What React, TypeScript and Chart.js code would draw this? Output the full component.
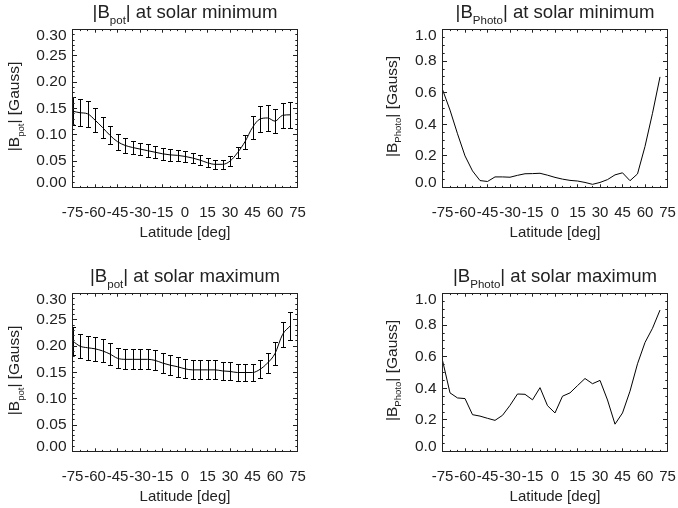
import React, { useEffect, useRef } from "react";
import { Chart, registerables } from "chart.js";

Chart.register(...registerables);

// ---------------- data ----------------
const latitudes = [-75, -70, -65, -60, -55, -50, -45, -40, -35, -30, -25, -20, -15, -10, -5, 0, 5, 10, 15, 20, 25, 30, 35, 40, 45, 50, 55, 60, 65, 70];

const bPotMin = [0.145, 0.142, 0.140, 0.128, 0.114, 0.099, 0.087, 0.080, 0.076, 0.073, 0.070, 0.067, 0.064, 0.062, 0.061, 0.059, 0.056, 0.052, 0.047, 0.044, 0.044, 0.050, 0.066, 0.087, 0.114, 0.130, 0.132, 0.126, 0.137, 0.138];
const bPotMinErr = [0.027, 0.026, 0.025, 0.023, 0.020, 0.017, 0.015, 0.014, 0.013, 0.012, 0.012, 0.011, 0.011, 0.011, 0.010, 0.010, 0.010, 0.009, 0.009, 0.009, 0.009, 0.009, 0.010, 0.013, 0.021, 0.024, 0.025, 0.023, 0.024, 0.025];

const bPotMax = [0.210, 0.200, 0.197, 0.195, 0.191, 0.185, 0.177, 0.175, 0.175, 0.175, 0.175, 0.173, 0.168, 0.164, 0.161, 0.157, 0.155, 0.155, 0.155, 0.155, 0.153, 0.152, 0.150, 0.150, 0.150, 0.156, 0.168, 0.186, 0.222, 0.238];
const bPotMaxErr = [0.026, 0.023, 0.023, 0.023, 0.022, 0.021, 0.019, 0.019, 0.019, 0.019, 0.019, 0.019, 0.019, 0.019, 0.019, 0.018, 0.018, 0.018, 0.018, 0.018, 0.017, 0.017, 0.017, 0.017, 0.017, 0.017, 0.019, 0.021, 0.024, 0.026];

const bPhotoMin = [0.62, 0.49, 0.34, 0.20, 0.105, 0.044, 0.038, 0.067, 0.067, 0.065, 0.077, 0.087, 0.088, 0.090, 0.078, 0.064, 0.053, 0.045, 0.041, 0.032, 0.020, 0.032, 0.050, 0.080, 0.093, 0.043, 0.086, 0.26, 0.47, 0.70];
const bPhotoMax = [0.577, 0.371, 0.339, 0.335, 0.233, 0.224, 0.210, 0.197, 0.229, 0.292, 0.364, 0.362, 0.327, 0.404, 0.290, 0.244, 0.350, 0.371, 0.417, 0.462, 0.429, 0.450, 0.326, 0.173, 0.244, 0.382, 0.555, 0.690, 0.780, 0.895];

const xTicks = [-75, -60, -45, -30, -15, 0, 15, 30, 45, 60, 75];
const yTicksPot = [0, 0.05, 0.1, 0.15, 0.2, 0.25, 0.3];
const yTicksPhoto = [0, 0.2, 0.4, 0.6, 0.8, 1.0];

type Seg = { t: string; sub?: boolean };
const titlePotMin: Seg[] = [{ t: "|B" }, { t: "pot", sub: true }, { t: "| at solar minimum" }];
const titlePhotoMin: Seg[] = [{ t: "|B" }, { t: "Photo", sub: true }, { t: "| at solar minimum" }];
const titlePotMax: Seg[] = [{ t: "|B" }, { t: "pot", sub: true }, { t: "| at solar maximum" }];
const titlePhotoMax: Seg[] = [{ t: "|B" }, { t: "Photo", sub: true }, { t: "| at solar maximum" }];
const yTitlePot: Seg[] = [{ t: "|B" }, { t: "pot", sub: true }, { t: "| [Gauss]" }];
const yTitlePhoto: Seg[] = [{ t: "|B" }, { t: "Photo", sub: true }, { t: "| [Gauss]" }];
const xTitle = "Latitude [deg]";

// ---------------- styling ----------------
const FONT = '"Liberation Sans", Arial, Helvetica, sans-serif';
const INK = "#222";
const W = 339;
const H = 244;

type PanelCfg = {
  title: Seg[];
  yTitle: Seg[];
  values: number[];
  errors?: number[];
  yTicks: number[];
  yMax: number;
  yDecimals: number;
  yMinorStep: number;
  smooth: boolean;
  left: number;
  right: number;
  yTitleX: number;
};

function richWidth(ctx: CanvasRenderingContext2D, segs: Seg[], size: number) {
  let w = 0;
  for (const s of segs) {
    ctx.font = `${s.sub ? size * 0.62 : size}px ${FONT}`;
    w += ctx.measureText(s.t).width;
  }
  return w;
}

function drawRich(ctx: CanvasRenderingContext2D, segs: Seg[], cx: number, y: number, size: number) {
  const w = richWidth(ctx, segs, size);
  let x = cx - w / 2;
  ctx.textAlign = "left";
  ctx.textBaseline = "alphabetic";
  for (const s of segs) {
    ctx.font = `${s.sub ? size * 0.62 : size}px ${FONT}`;
    ctx.fillText(s.t, x, s.sub ? y + size * 0.3 : y);
    x += ctx.measureText(s.t).width;
  }
}

function makePlugin(cfg: PanelCfg) {
  return {
    id: "idlFrame",
    afterDatasetsDraw(chart: any) {
      const { ctx, chartArea: a, scales } = chart;
      const xs = scales.x;
      const ys = scales.y;
      ctx.save();

      // error bars
      if (cfg.errors) {
        ctx.save();
        ctx.beginPath();
        ctx.rect(a.left, a.top, a.right - a.left, a.bottom - a.top);
        ctx.clip();
        ctx.strokeStyle = "#000";
        ctx.lineWidth = 1;
        ctx.beginPath();
        cfg.values.forEach((v, i) => {
          const e = cfg.errors![i];
          const px = Math.round(xs.getPixelForValue(latitudes[i])) + 0.5;
          const yt = Math.round(ys.getPixelForValue(v + e)) + 0.5;
          const yb = Math.round(ys.getPixelForValue(v - e)) + 0.5;
          ctx.moveTo(px, yt);
          ctx.lineTo(px, yb);
          ctx.moveTo(px - 2.5, yt);
          ctx.lineTo(px + 2.5, yt);
          ctx.moveTo(px - 2.5, yb);
          ctx.lineTo(px + 2.5, yb);
        });
        ctx.stroke();
        ctx.restore();
      }

      // frame
      ctx.strokeStyle = INK;
      ctx.lineWidth = 1;
      ctx.strokeRect(a.left, a.top, a.right - a.left, a.bottom - a.top);

      // ticks (inward, all four sides)
      const xMaj = 3.2, xMin = 1.6, yMaj = 4.5, yMin = 2.2;
      ctx.beginPath();
      for (let v = -75; v <= 75.001; v += 5) {
        const isMaj = xTicks.some((t) => Math.abs(t - v) < 1e-6);
        const len = isMaj ? xMaj : xMin;
        const px = Math.floor(xs.getPixelForValue(v)) + 0.5;
        ctx.moveTo(px, a.bottom);
        ctx.lineTo(px, a.bottom - len);
        ctx.moveTo(px, a.top);
        ctx.lineTo(px, a.top + len);
      }
      const n = Math.round(cfg.yMax / cfg.yMinorStep);
      for (let k = 0; k <= n; k++) {
        const v = k * cfg.yMinorStep;
        const isMaj = cfg.yTicks.some((t) => Math.abs(t - v) < 1e-6);
        const len = isMaj ? yMaj : yMin;
        const py = Math.floor(ys.getPixelForValue(v)) + 0.5;
        ctx.moveTo(a.left, py);
        ctx.lineTo(a.left + len, py);
        ctx.moveTo(a.right, py);
        ctx.lineTo(a.right - len, py);
      }
      ctx.stroke();

      // tick labels
      ctx.fillStyle = INK;
      ctx.font = `15px ${FONT}`;
      ctx.textAlign = "center";
      ctx.textBaseline = "alphabetic";
      for (const t of xTicks) {
        ctx.fillText(String(t), xs.getPixelForValue(t), a.bottom + 29.5);
      }
      ctx.font = `15.5px ${FONT}`;
      ctx.textAlign = "right";
      ctx.textBaseline = "middle";
      for (const t of cfg.yTicks) {
        let py = ys.getPixelForValue(t);
        py = Math.max(a.top + 6.5, Math.min(a.bottom - 5, py));
        ctx.fillText(t.toFixed(cfg.yDecimals), a.left - 6, py);
      }

      // axis titles
      const cx = (a.left + a.right) / 2;
      const cy = (a.top + a.bottom) / 2;
      ctx.font = `15px ${FONT}`;
      ctx.textAlign = "center";
      ctx.textBaseline = "alphabetic";
      ctx.fillText(xTitle, cx, a.bottom + 49.5);

      ctx.save();
      ctx.translate(cfg.yTitleX, cy - 2);
      ctx.rotate(-Math.PI / 2);
      drawRich(ctx, cfg.yTitle, 0, 0, 15.5);
      ctx.restore();

      // title
      drawRich(ctx, cfg.title, cx, a.top - 11.2, 18.6);

      ctx.restore();
    },
  };
}

function Panel({ cfg, left, top }: { cfg: PanelCfg; left: number; top: number }) {
  const ref = useRef<HTMLCanvasElement | null>(null);
  useEffect(() => {
    if (!ref.current) return;
    const chart = new Chart(ref.current, {
      type: "line",
      data: {
        datasets: [
          {
            data: latitudes.map((lat, i) => ({ x: lat, y: cfg.values[i] })),
            borderColor: "#000",
            borderWidth: 1,
            pointRadius: 0,
            fill: false,
            tension: cfg.smooth ? 0.4 : 0,
            cubicInterpolationMode: cfg.smooth ? "monotone" : "default",
          } as any,
        ],
      },
      options: {
        animation: false,
        responsive: false,
        maintainAspectRatio: false,
        devicePixelRatio: 1,
        events: [],
        layout: {
          padding: { left: cfg.left, right: W - cfg.right, top: 29.5, bottom: H - 187.5 },
        },
        scales: {
          x: { type: "linear", min: -75, max: 75, display: false },
          y: { type: "linear", min: 0, max: cfg.yMax, display: false },
        },
        plugins: {
          legend: { display: false },
          tooltip: { enabled: false },
          title: { display: false },
        },
      },
      plugins: [makePlugin(cfg)],
    });
    return () => chart.destroy();
  }, [cfg]);
  return (
    <canvas
      ref={ref}
      width={W}
      height={H}
      style={{ position: "absolute", left, top, width: W, height: H }}
    />
  );
}

const panels: { cfg: PanelCfg; left: number; top: number }[] = [
  {
    left: 0,
    top: 0,
    cfg: {
      title: titlePotMin, yTitle: yTitlePot, values: bPotMin, errors: bPotMinErr,
      yTicks: yTicksPot, yMax: 0.3, yDecimals: 2, yMinorStep: 0.01, smooth: true,
      left: 72.5, right: 297.5, yTitleX: 19,
    },
  },
  {
    left: 339,
    top: 0,
    cfg: {
      title: titlePhotoMin, yTitle: yTitlePhoto, values: bPhotoMin,
      yTicks: yTicksPhoto, yMax: 1.0, yDecimals: 1, yMinorStep: 0.05, smooth: false,
      left: 103.5, right: 328.5, yTitleX: 57.5,
    },
  },
  {
    left: 0,
    top: 264,
    cfg: {
      title: titlePotMax, yTitle: yTitlePot, values: bPotMax, errors: bPotMaxErr,
      yTicks: yTicksPot, yMax: 0.3, yDecimals: 2, yMinorStep: 0.01, smooth: true,
      left: 72.5, right: 297.5, yTitleX: 19,
    },
  },
  {
    left: 339,
    top: 264,
    cfg: {
      title: titlePhotoMax, yTitle: yTitlePhoto, values: bPhotoMax,
      yTicks: yTicksPhoto, yMax: 1.0, yDecimals: 1, yMinorStep: 0.05, smooth: false,
      left: 103.5, right: 328.5, yTitleX: 57.5,
    },
  },
];

export default function App() {
  return (
    <div
      style={{
        position: "absolute",
        left: 0,
        top: 0,
        width: 678,
        height: 508,
        background: "#fff",
        overflow: "hidden",
      }}
    >
      {panels.map((p, i) => (
        <Panel key={i} cfg={p.cfg} left={p.left} top={p.top} />
      ))}
    </div>
  );
}
